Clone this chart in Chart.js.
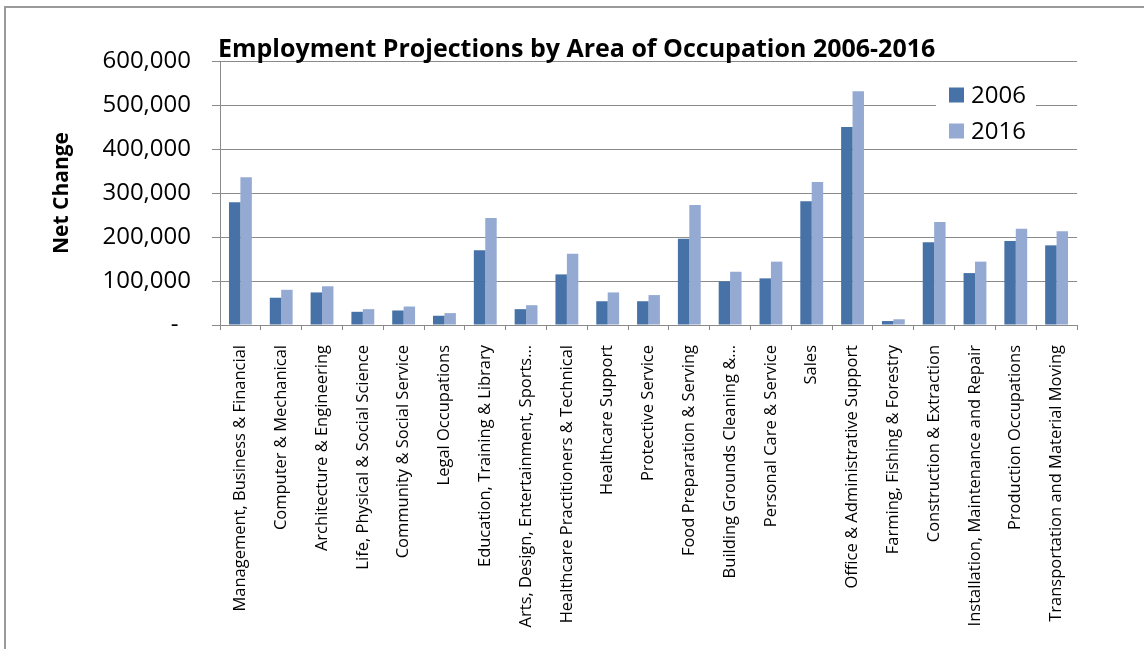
<!DOCTYPE html>
<html>
<head>
<meta charset="utf-8">
<title>Employment Projections</title>
<script src="https://cdn.jsdelivr.net/npm/chart.js@4"></script>
<style>
  html, body { margin: 0; padding: 0; background: #fff; }
  .wrap { position: relative; width: 1144px; height: 649px; overflow: hidden; }
  canvas { position: absolute; left: 0; top: 0; }
  .frame {
    position: absolute; left: 4px; top: 6px; width: 1200px; height: 700px;
    border-left: 2px solid #9a9a9a; border-top: 2px solid #9a9a9a;
    pointer-events: none;
  }
</style>
</head>
<body>
<div class="wrap">
  <canvas id="myChart" width="1144" height="649"></canvas>
  <div class="frame"></div>
</div>
<script>
const categories = [
  'Management, Business & Financial',
  'Computer & Mechanical',
  'Architecture & Engineering',
  'Life, Physical & Social Science',
  'Community & Social Service',
  'Legal Occupations',
  'Education, Training & Library',
  'Arts, Design, Entertainment, Sports\u2026',
  'Healthcare Practitioners & Technical',
  'Healthcare Support',
  'Protective Service',
  'Food Preparation & Serving',
  'Building Grounds Cleaning &\u2026',
  'Personal Care & Service',
  'Sales',
  'Office & Administrative Support',
  'Farming, Fishing & Forestry',
  'Construction & Extraction',
  'Installation, Maintenance and Repair',
  'Production Occupations',
  'Transportation and Material Moving'
];
const series_2006 = [279000, 62000, 74000, 30000, 33000, 21000, 170000, 36000, 115000, 54000, 54000,
  196000, 99000, 106000, 281000, 450000, 9000, 188000, 118000, 191000, 181000];
const series_2016 = [336000, 80000, 88000, 36000, 42000, 27000, 243000, 45000, 162000, 74000, 68000,
  273000, 121000, 144000, 325000, 531000, 13000, 234000, 144000, 219000, 213000];
const series_labels = ['2006', '2016'];
const chart_title = 'Employment Projections by Area of Occupation 2006-2016';
const y_title = 'Net Change';
const y_ticks = [0, 100000, 200000, 300000, 400000, 500000, 600000];

const FONT = "'Open Sans', 'Liberation Sans', sans-serif";
const GRID = '#8a8a8a';

// title sits at the left edge of the plot, above the top gridline
const titlePlugin = {
  id: 'leftTitle',
  afterDraw(chart) {
    const ctx = chart.ctx;
    ctx.save();
    ctx.font = 'bold 25px ' + FONT;
    ctx.fillStyle = '#000';
    ctx.textAlign = 'left';
    ctx.textBaseline = 'alphabetic';
    ctx.fillText(chart_title, chart.chartArea.left - 2, 57);
    ctx.restore();
  }
};

// legend box in the upper right of the plot, white background over the grid
const legendPlugin = {
  id: 'boxLegend',
  afterDatasetsDraw(chart) {
    const ctx = chart.ctx;
    const x = 936, y = 78;
    ctx.save();
    ctx.fillStyle = '#fff';
    ctx.fillRect(x, y, 100, 68);
    ctx.font = '24px ' + FONT;
    ctx.textBaseline = 'middle';
    chart.data.datasets.forEach((ds, i) => {
      const cy = y + 17 + i * 36;
      ctx.fillStyle = ds.backgroundColor;
      ctx.fillRect(x + 13, cy - 7.5, 15, 15);
      ctx.fillStyle = '#000';
      ctx.fillText(ds.label, x + 35, cy + 1);
    });
    ctx.restore();
  }
};

const ctx = document.getElementById('myChart').getContext('2d');
const myChart = new Chart(ctx, {
  type: 'bar',
  data: {
    labels: categories,
    datasets: [
      { label: series_labels[0], data: series_2006, backgroundColor: '#4672A8' },
      { label: series_labels[1], data: series_2016, backgroundColor: '#94AAD2' }
    ]
  },
  options: {
    responsive: false,
    devicePixelRatio: 1,
    animation: false,
    layout: { padding: { left: 40, right: 67, top: 61, bottom: 2 } },
    datasets: {
      bar: { categoryPercentage: 0.56, barPercentage: 1.0 }
    },
    plugins: {
      legend: { display: false },
      title: { display: false },
      tooltip: { enabled: false }
    },
    scales: {
      x: {
        afterFit: (scale) => { scale.height = 322; },
        grid: { drawOnChartArea: false, drawTicks: true, tickLength: 5, color: GRID },
        border: { color: GRID, width: 1 },
        ticks: {
          autoSkip: false,
          minRotation: 90,
          maxRotation: 90,
          padding: 15,
          color: '#000',
          font: { family: FONT, size: 16.5 }
        }
      },
      y: {
        min: 0,
        max: 600000,
        afterFit: (scale) => { scale.width = 180; },
        afterBuildTicks: (scale) => { scale.ticks = y_ticks.map(v => ({ value: v })); },
        grid: { color: GRID, tickLength: 8 },
        border: { color: GRID, width: 1 },
        title: {
          display: true,
          text: y_title,
          color: '#000',
          padding: { top: 9, bottom: 0 },
          font: { family: FONT, size: 21, weight: 'bold' }
        },
        ticks: {
          padding: 21,
          color: '#000',
          font: { family: FONT, size: 24 },
          callback: (v) => v === 0 ? '-  ' : v.toLocaleString('en-US')
        }
      }
    }
  },
  plugins: [titlePlugin, legendPlugin]
});
</script>
</body>
</html>
